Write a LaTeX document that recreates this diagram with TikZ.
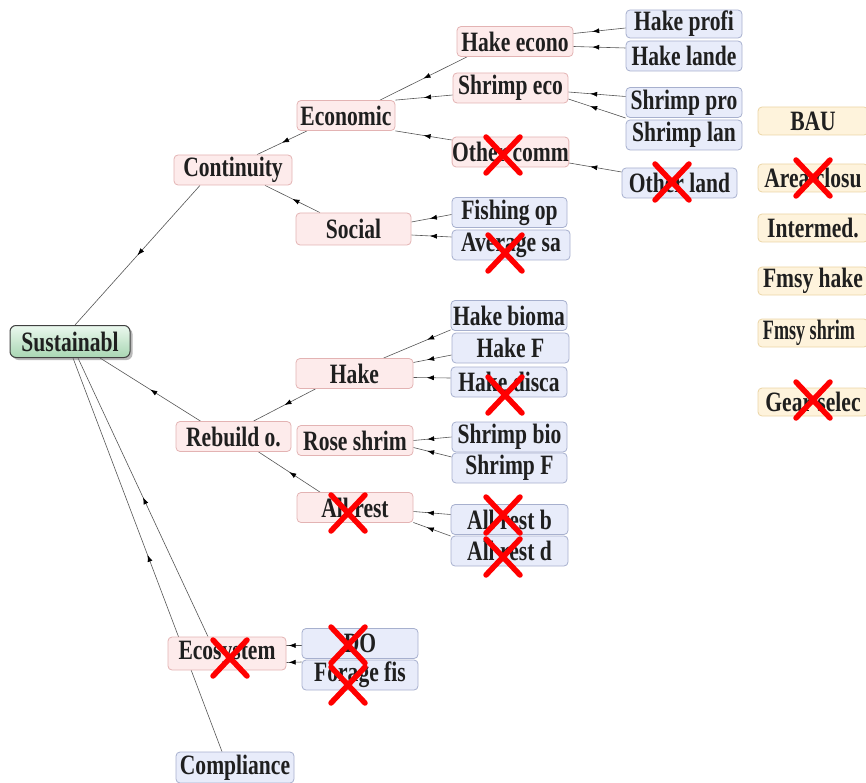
\documentclass[tikz,border=0pt]{standalone}
\usepackage{fontspec}
\setmainfont[FakeStretch=0.77]{Liberation Serif}
\usetikzlibrary{arrows.meta,decorations.markings,shadows,backgrounds}
\definecolor{pinkF}{HTML}{FDEBEB}
\definecolor{pinkD}{HTML}{E3B3B3}
\definecolor{blueF}{HTML}{E8ECFA}
\definecolor{blueD}{HTML}{A7B0CE}
\definecolor{creamF}{HTML}{FEF3DC}
\definecolor{creamD}{HTML}{EBD5A6}
\definecolor{greenT}{HTML}{EAF8EE}
\definecolor{greenB}{HTML}{A9D6B3}
\definecolor{lineC}{HTML}{555555}
\newcommand{\lblfont}{\bfseries\fontsize{28}{30}\selectfont}
\tikzset{
  basebox/.style={draw, rounded corners=4pt, line width=0.8pt, minimum height=30pt,
    minimum width=116pt, inner sep=0pt, font=\lblfont, text=black!88},
  pinkbox/.style={basebox, fill=pinkF, draw=pinkD},
  bluebox/.style={basebox, fill=blueF, draw=blueD},
  creambox/.style={basebox, fill=creamF, draw=creamD, minimum height=28pt, minimum width=110pt},
  greenbox/.style={basebox, top color=greenT, bottom color=greenB, draw=black!75,
    line width=1pt, rounded corners=6pt, minimum width=120pt, minimum height=32pt,
    drop shadow={shadow xshift=2.5pt, shadow yshift=-2.5pt, fill=black!55}},
  link/.style={draw=lineC, line width=0.6pt, postaction={decorate},
    decoration={markings, mark=at position #1 with {\arrow[black]{Latex[length=7pt,width=5pt]}}}},
  link/.default=0.5,
  crossline/.style={draw=red, line width=5.5pt, line cap=round},
}
\begin{document}
\begin{tikzpicture}[x=1pt,y=-1pt]
\useasboundingbox (0,0) rectangle (866,783);
\clip (0,0) rectangle (866,783);
% root
\node[greenbox] (sus) at (70,341.5) {Sustainabl};
% continuity branch
\node[pinkbox, minimum width=118pt] (cont) at (233,170) {Continuity};
\node[pinkbox, minimum width=98pt] (econ) at (346,115.5) {Economic};
\node[pinkbox, minimum width=115pt, minimum height=32pt] (soc) at (353.5,229) {Social};
\node[pinkbox] (hecon) at (515,41.5) {Hake econo};
\node[pinkbox, minimum width=115pt] (secon) at (510.5,88) {Shrimp eco};
\node[pinkbox, minimum width=115pt] (ocomm) at (510.5,152) {Other comm};
\node[bluebox, minimum height=28pt] (hprofi) at (684,24) {Hake profi};
\node[bluebox] (hlande) at (684,56) {Hake lande};
\node[bluebox] (spro) at (684,102.5) {Shrimp pro};
\node[bluebox] (slan) at (684,135) {Shrimp lan};
\node[bluebox, minimum width=115pt] (oland) at (679.5,183) {Other land};
\node[bluebox, minimum width=115pt] (fish) at (509.5,212.5) {Fishing op};
\node[bluebox, minimum width=118pt] (avg) at (511,245) {Average sa};
% rebuild branch
\node[pinkbox, minimum width=115pt] (rebuild) at (233.5,436.5) {Rebuild o.};
\node[pinkbox, minimum width=117pt] (hake) at (354.5,373.5) {Hake};
\node[pinkbox] (rose) at (355,440.5) {Rose shrim};
\node[pinkbox] (allrest) at (355,507.5) {All rest};
\node[bluebox] (hbio) at (509,315.5) {Hake bioma};
\node[bluebox, minimum width=117pt] (hF) at (510.5,348) {Hake F};
\node[bluebox] (hdis) at (509,382) {Hake disca};
\node[bluebox, minimum width=115pt] (sbio) at (509.5,437) {Shrimp bio};
\node[bluebox, minimum width=115pt] (sF) at (509.5,468) {Shrimp F};
\node[bluebox, minimum width=117pt] (arb) at (509.5,519.5) {All rest b};
\node[bluebox, minimum width=117pt] (ard) at (509.5,551) {All rest d};
% ecosystem / compliance
\node[pinkbox, minimum width=118pt, minimum height=33pt] (eco) at (227,653.5) {Ecosystem};
\node[bluebox] (do) at (360,643.5) {DO};
\node[bluebox] (forage) at (360,675) {Forage fis};
\node[bluebox, minimum width=118pt, minimum height=31pt] (compl) at (235,767.5) {Compliance};
% scenarios
\node[creambox] (bau) at (813,121) {BAU};
\node[creambox] (area) at (813,178) {Area closu};
\node[creambox] (inter) at (813,228) {Intermed.};
\node[creambox] (fhake) at (813,281) {Fmsy hake};
\node[creambox] (fshrim) at (813,333) {\hspace*{-8pt}\scalebox{0.84}[1]{Fmsy shrim}};
\node[creambox] (gear) at (813,402) {Gear selec};

\begin{pgfonlayer}{background}
% root links
\draw[link] ([xshift=-33pt]cont.south) -- ([xshift=5pt]sus.north);
\draw[link] ([xshift=-33pt]rebuild.north) -- ([xshift=30pt]sus.south);
\draw[link] ([xshift=-19pt]eco.north) -- ([xshift=8pt]sus.south);
\draw[link] ([xshift=-13pt]compl.north) -- ([xshift=3pt]sus.south);
% continuity
\draw[link] ([xshift=-39pt]econ.south) -- ([xshift=24pt]cont.north);
\draw[link] ([xshift=-33.5pt]soc.north) -- ([xshift=32pt]cont.south);
\draw[link] ([xshift=-48pt]hecon.south) -- ([xshift=34pt]econ.north);
\draw[link] ([yshift=-7pt]secon.west) -- (econ.north east);
\draw[link] ([yshift=12pt]ocomm.west) -- (econ.south east);
\draw[link=0.64] ([yshift=-4pt]hprofi.west) -- ([yshift=8pt]hecon.east);
\draw[link=0.64] ([yshift=8pt]hlande.west) -- ([yshift=-5pt]hecon.east);
\draw[link=0.62] ([yshift=6pt]spro.west) -- ([yshift=-4pt]secon.east);
\draw[link=0.62] ([yshift=17pt]slan.west) -- ([yshift=-11pt]secon.east);
\draw[link=0.6] ([yshift=11pt]oland.west) -- ([yshift=-11pt]ocomm.east);
\draw[link=0.54] ([yshift=-2pt]fish.west) -- ([yshift=7pt]soc.east);
\draw[link=0.54] ([yshift=8pt]avg.west) -- ([yshift=-6pt]soc.east);
% rebuild
\draw[link] ([xshift=-39pt]hake.south) -- ([xshift=20pt]rebuild.north);
\draw[link] ([xshift=-35pt]allrest.north) -- ([xshift=25pt]rebuild.south);
\draw[link=0.35] ([yshift=1pt]hbio.south west) -- ([xshift=29pt]hake.north);
\draw[link=0.64] ([yshift=-7pt]hF.west) -- ([yshift=11pt]hake.east);
\draw[link=0.64] ([yshift=4pt]hdis.west) -- ([yshift=-4pt]hake.east);
\draw[link=0.64] (sbio.west) -- (rose.east);
\draw[link=0.64] ([yshift=11pt]sF.west) -- ([yshift=-7pt]rose.east);
\draw[link=0.64] ([yshift=5pt]arb.west) -- ([yshift=-4pt]allrest.east);
\draw[link=0.64] ([yshift=15pt]ard.west) -- ([yshift=-15pt]allrest.east);
% ecosystem
\draw[link=0.85] ([yshift=-2pt]do.west) -- ([yshift=8pt]eco.east);
\draw[link=0.85] ([yshift=13pt]forage.west) -- ([yshift=-9pt]eco.east);
\end{pgfonlayer}

% red crosses
\foreach \cx/\cy in {503/155, 672/182, 813/178, 505/253, 505/395, 348/513,
                     503/515, 503/557, 230/658, 348/645, 348/685, 813/400}{
  \draw[crossline] (\cx-17,\cy-18) -- (\cx+17,\cy+18);
  \draw[crossline] (\cx-17,\cy+18) -- (\cx+17,\cy-18);
}
\end{tikzpicture}
\end{document}
